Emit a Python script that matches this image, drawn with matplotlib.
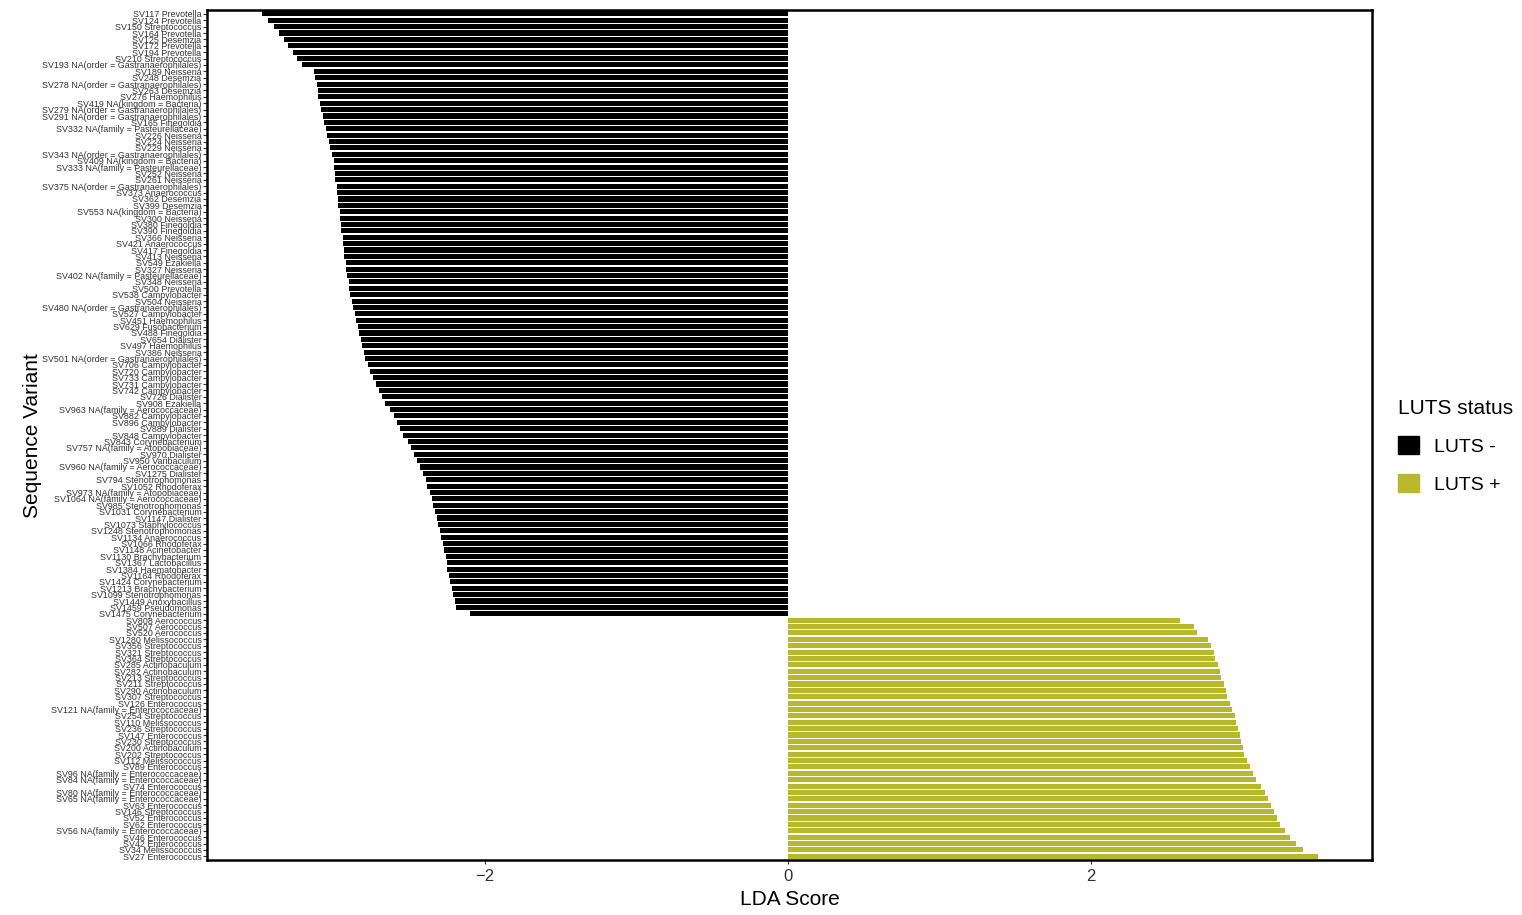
import matplotlib
matplotlib.use("Agg")
from matplotlib import pyplot as plt
from matplotlib.patches import Patch

plt.rcParams["font.family"] = ["Liberation Sans", "DejaVu Sans"]

# LUTS - (top to bottom)
neg_labels = [
    "SV117 Prevotella", "SV124 Prevotella", "SV150 Streptococcus", "SV164 Prevotella",
    "SV125 Desemzia", "SV172 Prevotella", "SV194 Prevotella", "SV210 Streptococcus",
    "SV193 NA(order = Gastranaerophilales)", "SV189 Neisseria", "SV248 Desemzia",
    "SV278 NA(order = Gastranaerophilales)", "SV263 Desemzia", "SV276 Haemophilus",
    "SV419 NA(kingdom = Bacteria)", "SV279 NA(order = Gastranaerophilales)",
    "SV291 NA(order = Gastranaerophilales)", "SV165 Finegoldia",
    "SV332 NA(family = Pasteurellaceae)", "SV226 Neisseria", "SV224 Neisseria",
    "SV229 Neisseria", "SV343 NA(order = Gastranaerophilales)",
    "SV409 NA(kingdom = Bacteria)", "SV333 NA(family = Pasteurellaceae)",
    "SV252 Neisseria", "SV261 Neisseria", "SV375 NA(order = Gastranaerophilales)",
    "SV373 Anaerococcus", "SV362 Desemzia", "SV399 Desemzia",
    "SV553 NA(kingdom = Bacteria)", "SV300 Neisseria", "SV380 Finegoldia",
    "SV390 Finegoldia", "SV366 Neisseria", "SV421 Anaerococcus", "SV417 Finegoldia",
    "SV413 Neisseria", "SV549 Ezakiella", "SV327 Neisseria",
    "SV402 NA(family = Pasteurellaceae)", "SV348 Neisseria", "SV500 Prevotella",
    "SV538 Campylobacter", "SV504 Neisseria", "SV480 NA(order = Gastranaerophilales)",
    "SV527 Campylobacter", "SV451 Haemophilus", "SV629 Fusobacterium",
    "SV488 Finegoldia", "SV654 Dialister", "SV497 Haemophilus", "SV386 Neisseria",
    "SV501 NA(order = Gastranaerophilales)", "SV706 Campylobacter",
    "SV720 Campylobacter", "SV733 Campylobacter", "SV731 Campylobacter",
    "SV742 Campylobacter", "SV726 Dialister", "SV908 Ezakiella",
    "SV963 NA(family = Aerococcaceae)", "SV882 Campylobacter", "SV896 Campylobacter",
    "SV889 Dialister", "SV848 Campylobacter", "SV843 Corynebacterium",
    "SV757 NA(family = Atopobiaceae)", "SV970 Dialister", "SV950 Varibaculum",
    "SV960 NA(family = Aerococcaceae)", "SV1275 Dialister", "SV794 Stenotrophomonas",
    "SV1052 Rhodoferax", "SV973 NA(family = Atopobiaceae)",
    "SV1064 NA(family = Aerococcaceae)", "SV985 Stenotrophomonas",
    "SV1031 Corynebacterium", "SV1147 Dialister", "SV1073 Staphylococcus",
    "SV1248 Stenotrophomonas", "SV1134 Anaerococcus", "SV1066 Rhodoferax",
    "SV1148 Acinetobacter", "SV1130 Brachybacterium", "SV1367 Lactobacillus",
    "SV1384 Haematobacter", "SV1164 Rhodoferax", "SV1424 Corynebacterium",
    "SV1213 Brachybacterium", "SV1099 Stenotrophomonas", "SV1449 Anoxybacillus",
    "SV1459 Pseudomonas", "SV1475 Corynebacterium",
]
neg_scores = [
    -3.47, -3.43, -3.39, -3.36, -3.33, -3.30, -3.27, -3.24, -3.21, -3.13,
    -3.12, -3.11, -3.10, -3.10, -3.09, -3.08, -3.07, -3.06, -3.05, -3.04,
    -3.03, -3.02, -3.01, -3.00, -3.00, -2.99, -2.99, -2.98, -2.98, -2.97,
    -2.97, -2.96, -2.96, -2.95, -2.95, -2.94, -2.94, -2.93, -2.93, -2.92,
    -2.92, -2.91, -2.90, -2.90, -2.89, -2.88, -2.87, -2.86, -2.85, -2.84,
    -2.83, -2.82, -2.81, -2.80, -2.79, -2.77, -2.76, -2.74, -2.72, -2.70,
    -2.68, -2.66, -2.63, -2.60, -2.58, -2.56, -2.54, -2.51, -2.49, -2.47,
    -2.45, -2.43, -2.41, -2.39, -2.38, -2.36, -2.35, -2.34, -2.33, -2.32,
    -2.31, -2.30, -2.29, -2.28, -2.27, -2.26, -2.25, -2.25, -2.24, -2.23,
    -2.22, -2.21, -2.20, -2.19, -2.10,
]

# LUTS + (top to bottom)
pos_labels = [
    "SV808 Aerococcus", "SV507 Aerococcus", "SV520 Aerococcus", "SV1280 Melissococcus",
    "SV356 Streptococcus", "SV321 Streptococcus", "SV364 Streptococcus",
    "SV285 Actinobaculum", "SV282 Actinobaculum", "SV213 Streptococcus",
    "SV211 Streptococcus", "SV290 Actinobaculum", "SV307 Streptococcus",
    "SV126 Enterococcus", "SV121 NA(family = Enterococcaceae)", "SV254 Streptococcus",
    "SV110 Melissococcus", "SV236 Streptococcus", "SV147 Enterococcus",
    "SV230 Streptococcus", "SV200 Actinobaculum", "SV202 Streptococcus",
    "SV112 Melissococcus", "SV89 Enterococcus", "SV96 NA(family = Enterococcaceae)",
    "SV84 NA(family = Enterococcaceae)", "SV74 Enterococcus",
    "SV80 NA(family = Enterococcaceae)", "SV65 NA(family = Enterococcaceae)",
    "SV63 Enterococcus", "SV146 Streptococcus", "SV52 Enterococcus",
    "SV62 Enterococcus", "SV56 NA(family = Enterococcaceae)", "SV46 Enterococcus",
    "SV42 Enterococcus", "SV34 Melissococcus", "SV27 Enterococcus",
]
pos_scores = [
    2.59, 2.68, 2.70, 2.77, 2.79, 2.81, 2.82, 2.84, 2.85, 2.86,
    2.88, 2.89, 2.90, 2.92, 2.93, 2.95, 2.96, 2.97, 2.98, 2.99,
    3.00, 3.01, 3.03, 3.05, 3.07, 3.09, 3.12, 3.15, 3.17, 3.19,
    3.21, 3.23, 3.25, 3.28, 3.31, 3.35, 3.40, 3.50,
]

col_neg = "#000000"
col_pos = "#B8B82C"

labels = neg_labels + pos_labels
scores = neg_scores + pos_scores
colors = [col_neg] * len(neg_labels) + [col_pos] * len(pos_labels)
n = len(labels)
ypos = list(range(n - 1, -1, -1))

fig = plt.figure(figsize=(15.22, 9.15), dpi=100)
ax = fig.add_axes([0.136, 0.060, 0.7655, 0.929])

ax.barh(ypos, scores, height=0.8, color=colors, edgecolor="none")
ax.set_yticks(ypos)
ax.set_yticklabels(labels, fontsize=6.4, color="#333333")
ax.set_ylim(-0.6, n - 0.4)
ax.set_xlim(-3.835, 3.855)
ax.set_xticks([-2, 0, 2])
ax.set_xticklabels(["\u22122", "0", "2"], fontsize=12, color="#333333")
ax.tick_params(axis="both", length=3, width=0.8, color="#333333")
ax.tick_params(axis="y", pad=1)

for s in ax.spines.values():
    s.set_linewidth(1.8)
    s.set_color("black")

ax.set_xlabel("LDA Score", fontsize=15, labelpad=4)
ax.set_ylabel("Sequence Variant", fontsize=15, labelpad=0)

handles = [Patch(color=col_neg, label="LUTS -"), Patch(color=col_pos, label="LUTS +")]
fig.legend(handles=handles, title="LUTS status", loc="upper left",
           bbox_to_anchor=(0.9186, 0.5644), frameon=False, fontsize=14,
           title_fontsize=15, handlelength=1.05, handleheight=1.05,
           handletextpad=0.8, alignment="left", labelspacing=0.95,
           borderaxespad=0, borderpad=0)

fig.savefig("out.png", dpi=100)
